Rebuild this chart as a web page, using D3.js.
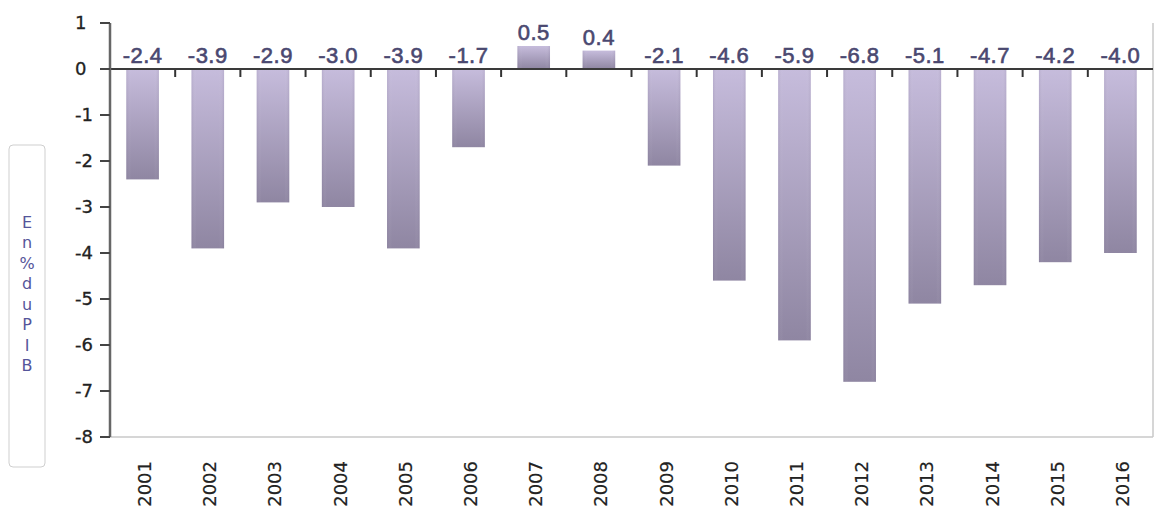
<!DOCTYPE html>
<html>
<head>
<meta charset="utf-8">
<script src="https://cdn.jsdelivr.net/npm/d3@7"></script>
<style>
  body { margin: 0; background: #fff; }
  svg { display: block; }
</style>
</head>
<body>
<div id="chart"></div>
<script>
// data
const years = ['2001', '2002', '2003', '2004', '2005', '2006', '2007', '2008',
               '2009', '2010', '2011', '2012', '2013', '2014', '2015', '2016'];
const deficits = [-2.4, -3.9, -2.9, -3.0, -3.9, -1.7, 0.5, 0.4,
                  -2.1, -4.6, -5.9, -6.8, -5.1, -4.7, -4.2, -4.0];
const yTickValues = [1, 0, -1, -2, -3, -4, -5, -6, -7, -8];
const yTitle = 'En % du PIB';

const width = 1171, height = 521;
const margin = { left: 110, right: 18, top: 23, bottom: 84 };

const svg = d3.select('#chart').append('svg')
    .attr('width', width)
    .attr('height', height);

const defs = svg.append('defs');
const grad = defs.append('linearGradient')
    .attr('id', 'barGrad')
    .attr('x1', 0).attr('y1', 0).attr('x2', 0).attr('y2', 1);
grad.append('stop').attr('offset', '0%').attr('stop-color', '#c6bcdc');
grad.append('stop').attr('offset', '100%').attr('stop-color', '#8f86a2');

const side = defs.append('linearGradient')
    .attr('id', 'barSide')
    .attr('x1', 0).attr('y1', 0).attr('x2', 1).attr('y2', 0);
side.append('stop').attr('offset', '0%').attr('stop-color', '#6a5f80').attr('stop-opacity', 0.15);
side.append('stop').attr('offset', '15%').attr('stop-color', '#fff').attr('stop-opacity', 0);
side.append('stop').attr('offset', '85%').attr('stop-color', '#fff').attr('stop-opacity', 0);
side.append('stop').attr('offset', '100%').attr('stop-color', '#6a5f80').attr('stop-opacity', 0.15);

const x = d3.scaleBand()
    .domain(years)
    .range([margin.left, width - margin.right])
    .paddingInner(0.5)
    .paddingOuter(0.25);

const y = d3.scaleLinear()
    .domain([-8, 1])
    .range([height - margin.bottom, margin.top]);

const plotRight = width - margin.right;

// plot frame (right + bottom)
svg.append('line')
    .attr('x1', margin.left).attr('x2', plotRight)
    .attr('y1', y(-8)).attr('y2', y(-8))
    .attr('stroke', '#c8c8c8').attr('stroke-width', 1.5);
svg.append('line')
    .attr('x1', plotRight).attr('x2', plotRight)
    .attr('y1', y(1)).attr('y2', y(-8))
    .attr('stroke', '#c8c8c8').attr('stroke-width', 1.5);

// bars
const bars = svg.append('g').selectAll('g')
    .data(deficits)
    .enter().append('g');

bars.append('rect')
    .attr('x', (d, i) => x(years[i]))
    .attr('y', d => y(Math.max(0, d)))
    .attr('width', x.bandwidth())
    .attr('height', d => Math.abs(y(d) - y(0)))
    .attr('fill', 'url(#barGrad)');
bars.append('rect')
    .attr('x', (d, i) => x(years[i]))
    .attr('y', d => y(Math.max(0, d)))
    .attr('width', x.bandwidth())
    .attr('height', d => Math.abs(y(d) - y(0)))
    .attr('fill', 'url(#barSide)');

// x axis on the zero line, ticks between categories
const step = x.step();
const boundaries = years.slice(1).map(yr => x(yr) - x.paddingInner() * step / 2);
svg.append('g').selectAll('line')
    .data(boundaries)
    .enter().append('line')
    .attr('x1', d => d).attr('x2', d => d)
    .attr('y1', y(0)).attr('y2', y(0) + 8)
    .attr('stroke', '#333').attr('stroke-width', 2);

svg.append('line')
    .attr('x1', margin.left - 10).attr('x2', plotRight)
    .attr('y1', y(0)).attr('y2', y(0))
    .attr('stroke', '#3a3a3a').attr('stroke-width', 2);

// y axis
const yAxis = svg.append('g');
yAxis.append('line')
    .attr('x1', margin.left).attr('x2', margin.left)
    .attr('y1', y(1)).attr('y2', y(-8))
    .attr('stroke', '#666').attr('stroke-width', 2.5);
yAxis.selectAll('line.tick')
    .data(yTickValues)
    .enter().append('line')
    .attr('class', 'tick')
    .attr('x1', margin.left - 10).attr('x2', margin.left)
    .attr('y1', d => y(d)).attr('y2', d => y(d))
    .attr('stroke', '#444').attr('stroke-width', 2);
yAxis.selectAll('text')
    .data(yTickValues)
    .enter().append('text')
    .attr('x', 75)
    .attr('y', d => y(d))
    .attr('dy', '0.36em')
    .style('font-family', "'DejaVu Sans', Verdana, sans-serif")
    .style('font-size', '18px')
    .style('fill', '#222')
    .style('stroke', '#222')
    .style('stroke-width', '0.3px')
    .text(d => d < 0 ? '-' + Math.abs(d) : d);

// year labels, rotated
svg.append('g').selectAll('text')
    .data(years)
    .enter().append('text')
    .attr('transform', d => `translate(${x(d) + x.bandwidth() / 2 + 2},461) rotate(-90)`)
    .attr('text-anchor', 'end')
    .attr('dy', '0.36em')
    .style('font-family', "'DejaVu Sans', Verdana, sans-serif")
    .style('font-size', '18px')
    .style('fill', '#222')
    .style('stroke', '#222')
    .style('stroke-width', '0.2px')
    .text(d => d);

// value labels
svg.append('g').selectAll('text')
    .data(deficits)
    .enter().append('text')
    .attr('x', (d, i) => x(years[i]) + x.bandwidth() / 2)
    .attr('y', d => d >= 0 ? y(d) - 6 : y(0) - 6)
    .attr('text-anchor', 'middle')
    .style('font-family', "'Liberation Sans', Arial, sans-serif")
    .style('font-size', '22px')
    .style('letter-spacing', '0.5px')
    .style('fill', '#4a4870')
    .style('stroke', '#4a4870')
    .style('stroke-width', '0.6px')
    .text(d => d.toFixed(1));

// y title box with stacked letters
const titleBox = svg.append('g');
titleBox.append('rect')
    .attr('x', 9).attr('y', 145)
    .attr('width', 36).attr('height', 322)
    .attr('rx', 4)
    .attr('fill', '#fff')
    .attr('stroke', '#cfcfcf');
const letters = yTitle.replace(/ /g, '').split('');
titleBox.selectAll('text')
    .data(letters)
    .enter().append('text')
    .attr('x', 27)
    .attr('y', (d, i) => 222 + i * 20.5)
    .attr('dy', '0.36em')
    .attr('text-anchor', 'middle')
    .style('font-family', "'DejaVu Sans', Verdana, sans-serif")
    .style('font-size', '16px')
    .style('fill', '#55559a')
    .text(d => d);
</script>
</body>
</html>
